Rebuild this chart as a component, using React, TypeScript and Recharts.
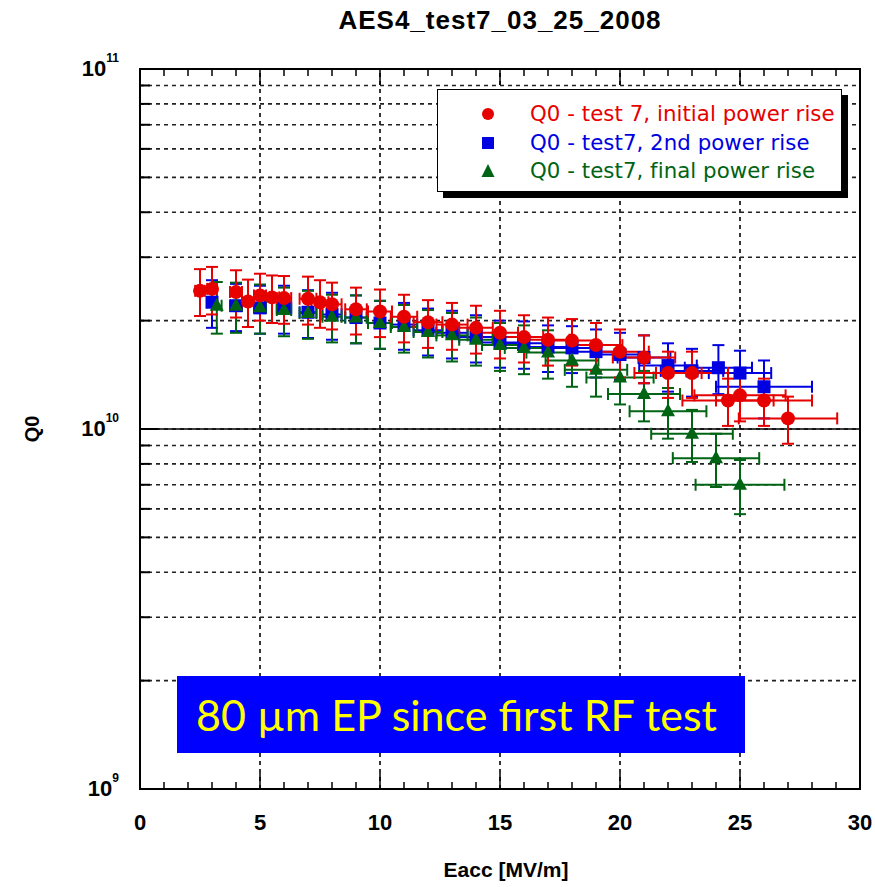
import React from 'react';
import {
  ScatterChart,
  Scatter,
  XAxis,
  YAxis,
  CartesianGrid,
  ErrorBar,
  ReferenceLine,
  ReferenceArea,
  Legend,
  Label,
} from 'recharts';

// Text drawn on the chart
const titleText = 'AES4_test7_03_25_2008';
const xTitle = 'Eacc [MV/m]';
const yTitle = 'Q0';
const noteText = '80 µm EP since first RF test';
const seriesNames = [
  'Q0 - test 7, initial power rise',
  'Q0 - test7, 2nd power rise',
  'Q0 - test7, final power rise',
];
const seriesColors = ['#e60000', '#0000e0', '#006414'];

// Q0 values are in units of 1e10

// Test 7, initial power rise
const eaccInitial = [2.5, 3, 4, 4.5, 5, 5.5, 6, 7, 7.5, 8, 9, 10, 11, 12, 13, 14, 15, 16, 17, 18, 19, 20, 21, 22, 23, 24.5, 25, 26, 27];
const q0Initial = [2.42, 2.45, 2.4, 2.26, 2.35, 2.32, 2.31, 2.3, 2.25, 2.22, 2.15, 2.12, 2.05, 1.98, 1.95, 1.91, 1.85, 1.8, 1.77, 1.76, 1.71, 1.64, 1.58, 1.43, 1.43, 1.2, 1.24, 1.2, 1.07];
const q0ErrInitial = [0.36, 0.37, 0.36, 0.34, 0.35, 0.35, 0.35, 0.35, 0.34, 0.33, 0.32, 0.32, 0.31, 0.3, 0.29, 0.29, 0.28, 0.27, 0.27, 0.26, 0.26, 0.25, 0.24, 0.21, 0.21, 0.18, 0.19, 0.18, 0.16];
const eaccErrInitial = [0.2, 0.2, 0.25, 0.25, 0.25, 0.3, 0.3, 0.35, 0.35, 0.4, 0.45, 0.5, 0.55, 0.6, 0.65, 0.7, 0.75, 0.8, 0.9, 1.0, 1.1, 1.2, 1.3, 1.4, 1.5, 1.9, 1.9, 2.0, 2.05];

// Test 7, 2nd power rise
const eaccSecond = [3, 4, 5, 6, 7, 8, 9, 10, 11, 12, 13, 14, 15, 16, 17, 18, 19, 20, 21, 22, 23, 24.1, 25, 26];
const q0Second = [2.25, 2.2, 2.17, 2.17, 2.11, 2.08, 2.04, 1.97, 1.95, 1.88, 1.85, 1.8, 1.74, 1.73, 1.69, 1.68, 1.64, 1.61, 1.58, 1.5, 1.45, 1.48, 1.43, 1.31];
const q0ErrSecond = [0.34, 0.33, 0.33, 0.33, 0.32, 0.31, 0.31, 0.3, 0.29, 0.28, 0.28, 0.27, 0.26, 0.26, 0.25, 0.25, 0.25, 0.24, 0.24, 0.23, 0.22, 0.23, 0.22, 0.24];
const eaccErrSecond = [0.2, 0.25, 0.25, 0.3, 0.35, 0.4, 0.45, 0.5, 0.55, 0.6, 0.65, 0.7, 0.75, 0.8, 0.85, 0.9, 1.0, 1.0, 1.1, 1.2, 1.3, 1.4, 1.3, 2.0];

// Test 7, final power rise
const eaccFinal = [3.2, 4, 5, 6, 7, 8, 9, 10, 11, 12, 13, 14, 15, 16, 17, 18, 19, 20, 21, 22, 23, 24, 25];
const q0Final = [2.2, 2.2, 2.18, 2.14, 2.1, 2.05, 2.04, 1.97, 1.92, 1.86, 1.82, 1.77, 1.71, 1.68, 1.63, 1.55, 1.46, 1.39, 1.25, 1.12, 0.97, 0.83, 0.7];
const q0ErrFinal = [0.36, 0.35, 0.34, 0.33, 0.32, 0.31, 0.31, 0.3, 0.29, 0.28, 0.28, 0.27, 0.26, 0.26, 0.25, 0.24, 0.23, 0.22, 0.2, 0.18, 0.16, 0.14, 0.12];
const eaccErrFinal = [0.2, 0.25, 0.25, 0.3, 0.35, 0.4, 0.45, 0.5, 0.55, 0.6, 0.65, 0.7, 0.75, 0.8, 0.9, 1.1, 1.3, 1.4, 1.5, 1.6, 1.7, 1.8, 1.85];

// Axis ticks
const xTicks = [0, 1, 2, 3, 4, 5, 6, 7, 8, 9, 10, 11, 12, 13, 14, 15, 16, 17, 18, 19, 20, 21, 22, 23, 24, 25, 26, 27, 28, 29, 30];
const xLabelledTicks = [0, 5, 10, 15, 20, 25, 30];
const xGridLines = [5, 10, 15, 20, 25];
const yTicks = [0.1, 0.2, 0.3, 0.4, 0.5, 0.6, 0.7, 0.8, 0.9, 1, 2, 3, 4, 5, 6, 7, 8, 9, 10];
const yDecades = [0.1, 1, 10];
const yDecadeExponents = ['9', '10', '11'];

const buildRows = (xs: number[], qs: number[], dqs: number[], dxs: number[]) =>
  xs.map((x, i) => ({ x, q: qs[i], dq: dqs[i], dx: dxs[i] }));

const initialRows = buildRows(eaccInitial, q0Initial, q0ErrInitial, eaccErrInitial);
const secondRows = buildRows(eaccSecond, q0Second, q0ErrSecond, eaccErrSecond);
const finalRows = buildRows(eaccFinal, q0Final, q0ErrFinal, eaccErrFinal);

const axisFont = '"Liberation Sans", Arial, sans-serif';

const CHART_W = 875;
const CHART_H = 887;
const MARGIN = { top: 69, right: 15, bottom: 0, left: 0 };
const X_AXIS_H = 98;
const PLOT_H = CHART_H - MARGIN.top - MARGIN.bottom - X_AXIS_H;

// Ticks along the bottom frame, mirrored on the top frame
const FrameXTick = (props: any) => {
  const { x, y, payload } = props;
  const v = payload.value;
  const major = xLabelledTicks.includes(v);
  const len = major ? 16 : 7;
  const top = y - PLOT_H;
  return (
    <g>
      <line x1={x} x2={x} y1={y} y2={y - len} stroke="#000" strokeWidth={1.5} />
      <line x1={x} x2={x} y1={top} y2={top + len} stroke="#000" strokeWidth={1.5} />
      {major && (
        <text x={x} y={y + 41} textAnchor="middle" fontFamily={axisFont} fontWeight="bold" fontSize={22} fill="#000">
          {v}
        </text>
      )}
    </g>
  );
};

const LeftTick = (props: any) => {
  const { x, y, payload } = props;
  const idx = yDecades.indexOf(payload.value);
  const major = idx >= 0;
  return (
    <g>
      <line x1={x} x2={x + (major ? 18 : 10)} y1={y} y2={y} stroke="#000" strokeWidth={2} />
      {major && (
        <text x={x - 21} y={y + 7} textAnchor="end" fontFamily={axisFont} fontWeight="bold" fill="#000">
          <tspan fontSize={22}>10</tspan>
          <tspan fontSize={12} dy={-14}>{yDecadeExponents[idx]}</tspan>
        </text>
      )}
    </g>
  );
};

const CircleMark = (props: any) => <circle cx={props.cx} cy={props.cy} r={7} fill={seriesColors[0]} />;
const SquareMark = (props: any) => (
  <rect x={props.cx - 6.5} y={props.cy - 6.5} width={13} height={13} fill={seriesColors[1]} />
);
const TriangleMark = (props: any) => (
  <polygon
    points={`${props.cx},${props.cy - 8} ${props.cx - 7},${props.cy + 5} ${props.cx + 7},${props.cy + 5}`}
    fill={seriesColors[2]}
  />
);

const LegendMarker = ({ i }: { i: number }) => (
  <svg width={16} height={16} style={{ display: 'block' }}>
    {i === 0 && <circle cx={8} cy={8} r={6} fill={seriesColors[0]} />}
    {i === 1 && <rect x={2} y={2} width={12} height={12} fill={seriesColors[1]} />}
    {i === 2 && <polygon points="8,1 1.5,14 14.5,14" fill={seriesColors[2]} />}
  </svg>
);

const LegendBox = () => (
  <div
    style={{
      width: 405,
      height: 103,
      boxSizing: 'border-box',
      border: '1px solid #000',
      background: '#fff',
      boxShadow: '6px 6px 0 #000',
      position: 'relative',
      fontFamily: '"DejaVu Sans", sans-serif',
      fontSize: 21.3,
      letterSpacing: 0.05,
    }}
  >
    {seriesNames.map((name, i) => (
      <div
        key={name}
        style={{ position: 'absolute', left: 42, top: 10 + i * 28.5, height: 28, display: 'flex', alignItems: 'center' }}
      >
        <LegendMarker i={i} />
        <span style={{ color: seriesColors[i], marginLeft: 34, whiteSpace: 'nowrap', lineHeight: '28px' }}>{name}</span>
      </div>
    ))}
  </div>
);

const errorProps = { strokeWidth: 2, width: 6, isAnimationActive: false };

export default function App() {
  return (
    <div style={{ position: 'absolute', left: 0, top: 0, width: CHART_W, height: CHART_H, background: '#fff' }}>
      <ScatterChart width={CHART_W} height={CHART_H} margin={MARGIN}>
        <CartesianGrid vertical={false} stroke="#222" strokeWidth={1.6} strokeDasharray="4 4" />
        {xGridLines.map((v) => (
          <ReferenceLine key={v} x={v} stroke="#222" strokeWidth={1.8} strokeDasharray="4 4" />
        ))}
        <ReferenceLine y={1} stroke="#000" strokeWidth={1.5} />
        <XAxis
          dataKey="x"
          type="number"
          domain={[0, 30]}
          ticks={xTicks}
          interval={0}
          height={X_AXIS_H}
          allowDataOverflow
          axisLine={false}
          tickLine={false}
          tickSize={0}
          tickMargin={0}
          tick={<FrameXTick />}
        >
          <Label
            content={(p: any) => (
              <text
                x={p.viewBox.x + p.viewBox.width / 2 + 6}
                y={p.viewBox.y + 88}
                textAnchor="middle"
                fontFamily={axisFont}
                fontWeight="bold"
                fontSize={21}
                fill="#000"
              >
                {xTitle}
              </text>
            )}
          />
          <Label
            content={(p: any) => (
              <text
                x={p.viewBox.x + p.viewBox.width / 2}
                y={p.viewBox.y - PLOT_H - 40}
                textAnchor="middle"
                fontFamily={axisFont}
                fontWeight="bold"
                fontSize={26}
                letterSpacing={1}
                fill="#000"
              >
                {titleText}
              </text>
            )}
          />
        </XAxis>
        <YAxis
          dataKey="q"
          type="number"
          scale="log"
          domain={[0.1, 10]}
          ticks={yTicks}
          interval={0}
          width={140}
          allowDataOverflow
          axisLine={false}
          tickLine={false}
          tickSize={0}
          tickMargin={0}
          tick={<LeftTick />}
        >
          <Label
            content={(p: any) => {
              const cy = p.viewBox.y + p.viewBox.height / 2;
              return (
                <text
                  x={39}
                  y={cy}
                  transform={`rotate(-90, 39, ${cy})`}
                  textAnchor="middle"
                  fontFamily={axisFont}
                  fontWeight="bold"
                  fontSize={20}
                  fill="#000"
                >
                  {yTitle}
                </text>
              );
            }}
          />
        </YAxis>
        <ReferenceArea x1={0} x2={30} y1={0.1} y2={10} fill="none" stroke="#000" strokeWidth={2} />
        <Scatter name={seriesNames[1]} data={secondRows} shape={<SquareMark />} isAnimationActive={false}>
          <ErrorBar dataKey="dq" direction="y" stroke={seriesColors[1]} {...errorProps} />
          <ErrorBar dataKey="dx" direction="x" stroke={seriesColors[1]} {...errorProps} />
        </Scatter>
        <Scatter name={seriesNames[2]} data={finalRows} shape={<TriangleMark />} isAnimationActive={false}>
          <ErrorBar dataKey="dq" direction="y" stroke={seriesColors[2]} {...errorProps} />
          <ErrorBar dataKey="dx" direction="x" stroke={seriesColors[2]} {...errorProps} />
        </Scatter>
        <Scatter name={seriesNames[0]} data={initialRows} shape={<CircleMark />} isAnimationActive={false}>
          <ErrorBar dataKey="dq" direction="y" stroke={seriesColors[0]} {...errorProps} />
          <ErrorBar dataKey="dx" direction="x" stroke={seriesColors[0]} {...errorProps} />
        </Scatter>
        <Legend
          layout="horizontal"
          verticalAlign="middle"
          align="center"
          content={<LegendBox />}
          wrapperStyle={{ left: 437, top: 89, width: 405, height: 103 }}
        />
      </ScatterChart>
      <div
        style={{
          position: 'absolute',
          left: 177,
          top: 676,
          width: 568,
          height: 77,
          background: '#0000ff',
          color: '#ffff00',
          fontFamily: 'Lato, "Open Sans", sans-serif',
          fontSize: 43,
          display: 'flex',
          alignItems: 'center',
          paddingLeft: 19,
          boxSizing: 'border-box',
          whiteSpace: 'nowrap',
        }}
      >
        {noteText}
      </div>
    </div>
  );
}
